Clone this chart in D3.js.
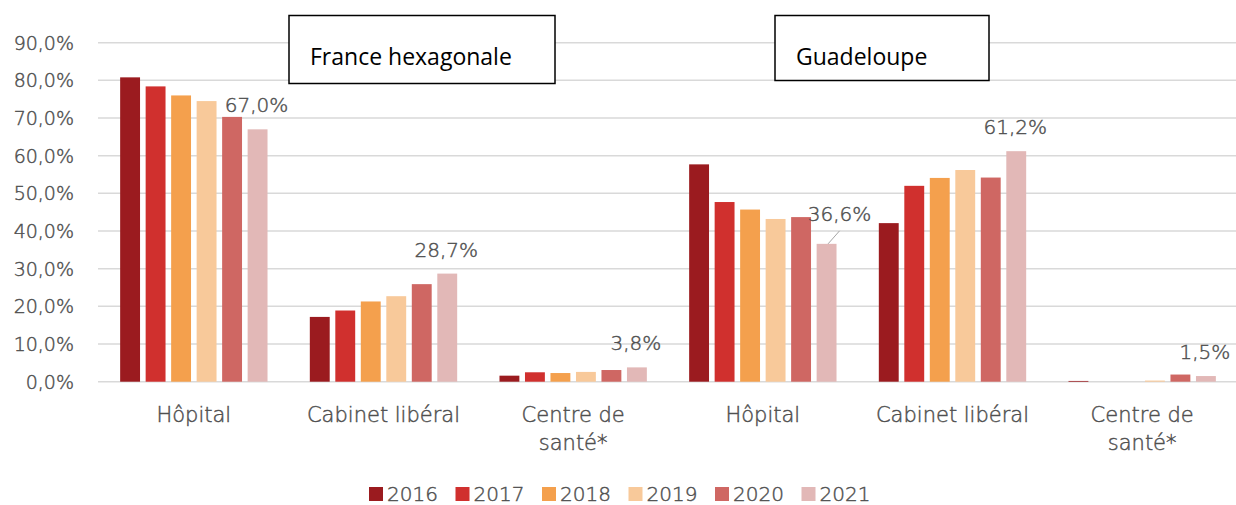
<!DOCTYPE html>
<html>
<head>
<meta charset="utf-8">
<script src="https://cdn.jsdelivr.net/npm/d3@7"></script>
<style>
  body { margin: 0; background: #fff; }
  svg text { font-family: "DejaVu Sans", sans-serif; font-weight: 200; fill: #505050; stroke: #505050; stroke-width: 0.45; }
  .box text { font-family: "Open Sans", sans-serif; font-weight: 400; fill: #000; stroke: none; }
</style>
</head>
<body>
<svg id="chart" width="1236" height="505"></svg>
<script>
// Categories (two regions x three places of care)
const categories = ["Hôpital", "Cabinet libéral", "Centre de santé*", "Hôpital ", "Cabinet libéral ", "Centre de santé* "];
const years = ["2016", "2017", "2018", "2019", "2020", "2021"];
const yTicks = [0, 0.1, 0.2, 0.3, 0.4, 0.5, 0.6, 0.7, 0.8, 0.9];

// share per year, one array per category (order of categories)
const hopitalFrance   = [0.808, 0.784, 0.760, 0.745, 0.703, 0.670];
const cabinetFrance   = [0.172, 0.189, 0.213, 0.227, 0.259, 0.287];
const centreFrance    = [0.016, 0.025, 0.023, 0.026, 0.031, 0.038];
const hopitalGuad     = [0.577, 0.477, 0.457, 0.432, 0.437, 0.366];
const cabinetGuad     = [0.421, 0.520, 0.541, 0.562, 0.542, 0.612];
const centreGuad      = [0.002, 0.000, 0.000, 0.003, 0.019, 0.015];
const seriesByCat = [hopitalFrance, cabinetFrance, centreFrance, hopitalGuad, cabinetGuad, centreGuad];

const colors = ["#9b1b1f", "#d0302e", "#f4a04d", "#f8c99a", "#cf6763", "#e2b8b7"];
const panelTitles = ["France hexagonale", "Guadeloupe"];

const svg = d3.select("#chart");
const fmt = v => d3.format(".1f")(v * 100).replace(".", ",") + "%";

const x0 = d3.scaleBand().domain(categories).range([99, 1237]).paddingInner(0.223).paddingOuter(0.1115);
const x1 = d3.scaleBand().domain(years).range([0, x0.bandwidth()]).paddingInner(0.22);
const y = d3.scaleLinear().domain([0, 0.9]).range([381.7, 42.7]);
const color = d3.scaleOrdinal().domain(years).range(colors);

// gridlines
svg.append("g").selectAll("line")
  .data(yTicks)
  .join("line")
  .attr("x1", 98).attr("x2", 1236)
  .attr("y1", d => y(d)).attr("y2", d => y(d))
  .attr("stroke", "#d9d9d9").attr("stroke-width", 1.5);

// y axis labels
svg.append("g").selectAll("text")
  .data(yTicks)
  .join("text")
  .attr("x", 74).attr("y", d => y(d))
  .attr("dy", "0.36em")
  .attr("text-anchor", "end")
  .attr("font-size", 19)
  .text(fmt);

// bars
const groups = svg.append("g").selectAll("g")
  .data(categories)
  .join("g")
  .attr("transform", d => `translate(${x0(d)},0)`);

groups.selectAll("rect")
  .data((c, i) => years.map((yr, j) => ({ yr, v: seriesByCat[i][j] })))
  .join("rect")
  .attr("x", d => x1(d.yr))
  .attr("width", x1.bandwidth())
  .attr("y", d => y(d.v))
  .attr("height", d => y(0) - y(d.v))
  .attr("fill", d => color(d.yr));

// data labels on 2021 bars
categories.forEach((c, i) => {
  const v = seriesByCat[i][5];
  const bx = x0(c) + x1("2021") + x1.bandwidth() / 2;
  const by = y(v);
  if (i === 3) {
    svg.append("line")
      .attr("x1", bx + 1.5).attr("y1", by)
      .attr("x2", bx + 13).attr("y2", by - 13)
      .attr("stroke", "#a6a6a6").attr("stroke-width", 1);
    svg.append("text")
      .attr("x", bx + 13).attr("y", by - 23)
      .attr("text-anchor", "middle").attr("font-size", 20)
      .text(fmt(v));
  } else {
    svg.append("text")
      .attr("x", bx - 1).attr("y", by - 17)
      .attr("text-anchor", "middle").attr("font-size", 20)
      .text(fmt(v));
  }
});

// category labels (wrap "Centre de santé*")
categories.forEach(c => {
  const name = c.trim();
  const lines = name.startsWith("Centre") ? ["Centre de", "santé*"] : [name];
  const t = svg.append("text")
    .attr("x", x0(c) + x0.bandwidth() / 2)
    .attr("y", 421.5)
    .attr("text-anchor", "middle")
    .attr("font-size", 21);
  lines.forEach((l, k) => {
    t.append("tspan")
      .attr("x", x0(c) + x0.bandwidth() / 2)
      .attr("dy", k === 0 ? 0 : 28)
      .text(l);
  });
});

// panel title boxes
const boxes = [
  { t: panelTitles[0], x: 289, w: 266, h: 68, tx: 310 },
  { t: panelTitles[1], x: 775, w: 214, h: 65, tx: 796 }
];
const box = svg.append("g").attr("class", "box").selectAll("g").data(boxes).join("g");
box.append("rect")
  .attr("x", d => d.x).attr("y", 15.5)
  .attr("width", d => d.w).attr("height", d => d.h)
  .attr("fill", "#fff").attr("stroke", "#000").attr("stroke-width", 1.5);
box.append("text")
  .attr("x", d => d.tx).attr("y", 65)
  .attr("font-size", 23)
  .text(d => d.t);

// legend
const legend = svg.append("g").selectAll("g")
  .data(years)
  .join("g")
  .attr("transform", (d, i) => `translate(${369 + i * 86.5},0)`);
legend.append("rect")
  .attr("x", 0).attr("y", 487).attr("width", 14).attr("height", 14)
  .attr("fill", d => color(d));
legend.append("text")
  .attr("x", 18).attr("y", 501)
  .attr("font-size", 20)
  .text(d => d);
</script>
</body>
</html>
